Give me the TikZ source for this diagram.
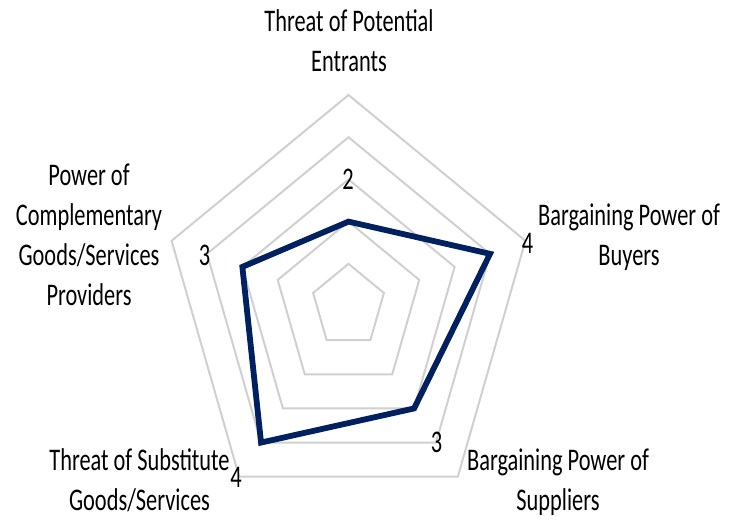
\documentclass[tikz,border=0pt]{standalone}
\usepackage{fontspec}
\setmainfont{Carlito}
\usepackage{graphicx}
\definecolor{gridgray}{RGB}{208,208,208}
\definecolor{navy}{RGB}{0,32,96}
\newcommand{\axlbl}[1]{\scalebox{0.71}[1]{\begin{tabular}[t]{@{}c@{}}#1\end{tabular}}}
\newcommand{\vallbl}[1]{\scalebox{0.71}[1]{#1}}
\tikzset{
  gridring/.style={draw=gridgray, line width=2pt, line join=miter},
  dataline/.style={draw=navy, line width=5.8pt, line join=miter},
  axislabel/.style={anchor=base, inner sep=0pt, font=\fontsize{31.5}{40}\selectfont},
  valuelabel/.style={anchor=center, inner sep=0pt, font=\fontsize{31.5}{40}\selectfont},
}
\begin{document}
\begin{tikzpicture}[x=1pt,y=-1pt]
\useasboundingbox (0,0) rectangle (730,522);
\def\cx{348.5}\def\cy{306}\def\rx{186}\def\ry{211}
% grid rings
\foreach \k in {1,...,5}{
  \draw[gridring]
    ({\cx+\rx*\k/5*cos(90)},{\cy-\ry*\k/5*sin(90)}) --
    ({\cx+\rx*\k/5*cos(18)},{\cy-\ry*\k/5*sin(18)}) --
    ({\cx+\rx*\k/5*cos(-54)},{\cy-\ry*\k/5*sin(-54)}) --
    ({\cx+\rx*\k/5*cos(-126)},{\cy-\ry*\k/5*sin(-126)}) --
    ({\cx+\rx*\k/5*cos(162)},{\cy-\ry*\k/5*sin(162)}) -- cycle;
}
% data points
\coordinate (entrants) at ({\cx+\rx*2/5*cos(90)},{\cy-\ry*2/5*sin(90)});
\coordinate (buyers) at ({\cx+\rx*4/5*cos(18)},{\cy-\ry*4/5*sin(18)});
\coordinate (suppliers) at ({\cx+\rx*3/5*cos(-54)},{\cy-\ry*3/5*sin(-54)});
\coordinate (substitutes) at ({\cx+\rx*4/5*cos(-126)},{\cy-\ry*4/5*sin(-126)});
\coordinate (complementary) at ({\cx+\rx*3/5*cos(162)},{\cy-\ry*3/5*sin(162)});
\draw[dataline] (entrants) -- (buyers) -- (suppliers) -- (substitutes) -- (complementary) -- cycle;
% value labels
\node[valuelabel] (v1) at (348,179) {\vallbl{2}};
\node[valuelabel] (v2) at (527.5,243) {\vallbl{4}};
\node[valuelabel] (v3) at (436.5,442) {\vallbl{3}};
\node[valuelabel] (v4) at (236,477) {\vallbl{4}};
\node[valuelabel] (v5) at (204.5,255) {\vallbl{3}};
% axis labels
\node[axislabel] (l1) at (349,31.7) {\axlbl{Threat of Potential\\Entrants}};
\node[axislabel] (l2) at (629,225) {\axlbl{Bargaining Power of\\Buyers}};
\node[axislabel] (l3) at (558,470) {\axlbl{Bargaining Power of\\Suppliers}};
\node[axislabel] (l4) at (139.5,470) {\axlbl{Threat of Substitute\\Goods/Services}};
\node[axislabel] (l5) at (89,185.7) {\axlbl{Power of\\Complementary\\Goods/Services\\Providers}};
\end{tikzpicture}
\end{document}
